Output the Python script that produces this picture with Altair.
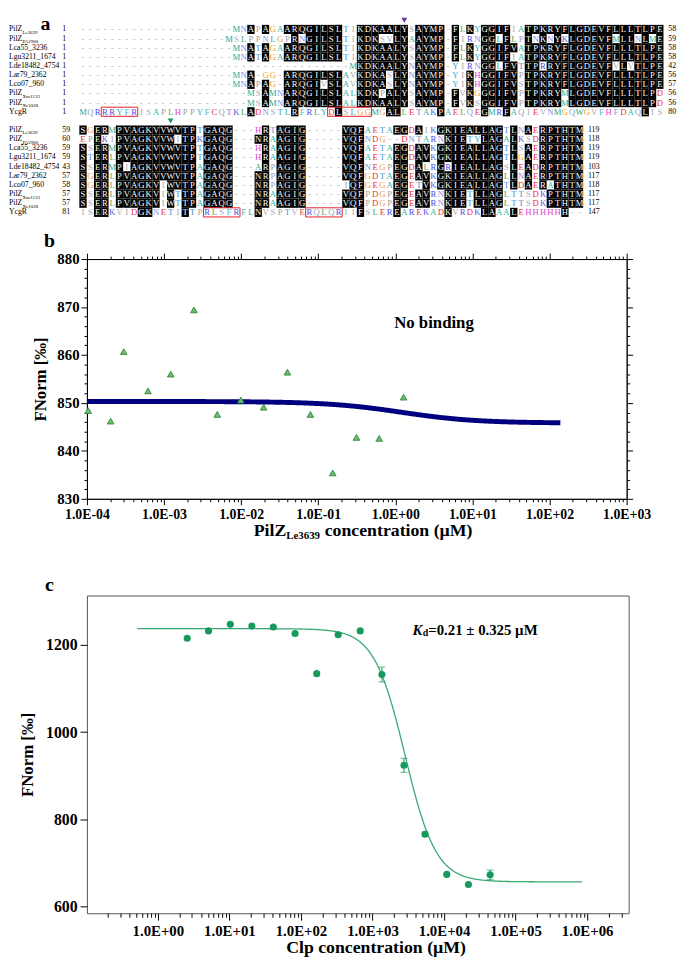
import altair as alt
import pandas as pd
from collections import Counter

# ---------------- panel a: alignment data ----------------
name_main = ["PilZ", "PilZ", "Lca55_3236", "Lgu3211_1674", "Lde18482_4754",
             "Lar79_2362", "Lco07_960", "PilZ", "PilZ", "YcgR"]
name_sub = ["Le3639", "PA2960", "", "", "", "", "", "Xac1133", "Xc1028", ""]
start1 = [1, 1, 1, 1, 1, 1, 1, 1, 1, 1]
end1 = [58, 59, 58, 58, 42, 56, 57, 56, 56, 80]
start2 = [59, 60, 59, 59, 43, 57, 58, 57, 57, 81]
end2 = [119, 118, 119, 119, 103, 117, 118, 117, 117, 147]

block1 = [
    "-" * 21 + "MNAPAGAARQGILSL" + "TIKDKAALYSAYMP-FLKYGGIFIATPKRYFLGDEVFLLLTLPE",
    "-" * 20 + "MSLPPNLGPRNGILSL" + "TIKDKSVLYAAYMP-FIRNGGLFLPTNKNYKLGDEVFMLLNLME",
    "-" * 21 + "MNATAGAARQGILSL" + "TIKDKAALYSAYMP-FLKYGGIFVATPKRYFLGDEVFLLLTLPE",
    "-" * 21 + "MNATAGAARQGILSL" + "TIKDKAALYSAYMP-FLKYGGIFIATPKRYFLGDEVFLLLTLPE",
    "-" * 37 + "MKDKAALYNAYMP-YIRNGGLFVTTPRRYFLGDEVFVLVTLPE",
    "-" * 21 + "MNA-GG-ARQGILSL" + "AVKDKASLYNAYMP-YIKHGGIFVPTPKRYFLGDEVFLLLTLPE",
    "-" * 21 + "MNAPAG-ARQGIVSL" + "AVKDKASLYNAYMP-YIKHGGIFVSTPKRYFLGDEVFLLLTLPE",
    "-" * 23 + "MSAMNARQGILSL" + "ALKDKPALYSAYMP-FVKGGGIFVPTPKRYMLGDEVFLLLTLPD",
    "-" * 23 + "MSAMNARQGILSL" + "ALKDKAALYSAYMP-FVKSGGIFVPTPKRYMLGDEVFLLLTLPD",
    "MQRRRYFRISAPLHPPYFCQTKLADNSTLRFRLYDLSLGGMGALLETAKPAELQEGMRFAQIEVNMGQWGVFHFDAQLIS",
]
block2 = [
    "SGERMPVAGKVVWVTPTGAQG---HRTAGIG-----VQFAETAEGDAIKGKIEALLAGTLNAERPTHTM",
    "EPEKIPVAGKVVWITPKGAQG---NRAAGIG-----VQFNDG--DNTARNKIETYLAGALKSDRPTHTM",
    "SSERMPVAGKVVWVTPTGAQG---HRAAGIG-----VQFAETAEGDAVKGKIEALLAGTLSAERPTHTM",
    "STERLPVAGKVVWVTPTGAQG---HRAAGIG-----VQFAETAEGDAVKGKIEALLAGTLGAERPTHTM",
    "SSERMPIAGKVVWVTPAGAQG---ARPAGIG-----VQFNEGPEGDALRGRIEALLAGSLEADRPTHTM",
    "SGERLPVAGKVVWVTPAGAQG---NRPAGIG-----VQFGDTAEGEAVKGKIEALLAGLLNAERPTHTM",
    "SGERLPVAGKVIWVTPAGAQG---NRPAGIG-----IQFGEGAEGETVKGKIEALLAGTLDAERATHTM",
    "SSERLPVAGKVIWTTPAGAQG---NRAAGIG-----VQFPDGPEGEAVRNKIETLLAGLTTSDKPTHTM",
    "SSERLPVAGKVIWTTPAGAQG---NRAAGIG-----VQFPDGPEGEAVRNKIETLLAGLTTSDKPTHTM",
    "ISERKVIDGKNETITTPRLSFRFLNVSPTVERQLQRIIFSLEREAREKADKVRDKLAAALEHHHHHH--",
]
# red motif boxes on the YcgR row: (block, first column, last column)
motif_boxes = [(0, 3, 7), (0, 34, 39), (1, 17, 21), (1, 31, 35)]
# triangle markers: (block, column, colour)
markers = [(0, 44, "#7030a0"), (1, 12, "#1a9a5c")]

res_colors = {
    "A": "#2bb5a0", "C": "#e0303a", "D": "#e8303a", "E": "#e8303a", "F": "#4fb8c8",
    "G": "#f0a030", "H": "#e23fd0", "I": "#a8a8a8", "K": "#5a5ae0", "L": "#45a865",
    "M": "#2aa88a", "N": "#8a8ae8", "P": "#a0a0a0", "Q": "#8f9fc8", "R": "#4a4ae8",
    "S": "#a8a8b8", "T": "#4a90d0", "V": "#a8a8a8", "W": "#2aa88a", "Y": "#2ab0c0",
}

# ---------------- panel b data ----------------
b_conc = [1.04e-4, 2.03e-4, 3.0e-4, 6.2e-4, 1.22e-3, 2.44e-3, 4.9e-3, 9.9e-3,
          1.96e-2, 3.98e-2, 7.9e-2, 0.154, 0.313, 0.617, 1.28]
b_fnorm = [848.4, 846.2, 860.7, 852.5, 856.0, 869.4, 847.6, 850.6,
           849.1, 856.4, 847.6, 835.4, 842.8, 842.6, 851.2]
b_fit = dict(top=850.3, bottom=845.8, ec50=1.2, hill=0.9, lo=-4.0, hi=2.143)

# ---------------- panel c data ----------------
c_conc = [2.57, 5.1, 10.3, 20.6, 41.1, 82.7, 166, 331, 673, 1352, 2750, 5420,
          10900, 21900, 44060]
c_fnorm = [1215, 1232, 1247, 1243, 1241, 1226, 1134, 1223, 1232, 1132, 924, 766,
           674, 651, 673]
c_err = [0, 0, 0, 0, 0, 0, 0, 0, 0, 17, 16, 5, 0, 0, 11]
c_fit = dict(top=1237, bottom=657, ec50=2850, hill=2.0, lo=-0.29, hi=5.94)

SERIF = "Liberation Serif"
LEFT = -79  # left edge of the whole figure relative to the plot areas

# ================= panel a =================
cells = []
for bi, block in enumerate([block1, block2]):
    ncol = len(block[0])
    for c in range(ncol):
        column = [s[c] for s in block]
        cnt = Counter(ch for ch in column if ch != "-")
        top_res, top_n = cnt.most_common(1)[0] if cnt else ("", 0)
        for r, ch in enumerate(column):
            cons = ch != "-" and ch == top_res and top_n >= 6
            cells.append(dict(col=c, v=r + 11 * bi, res=ch,
                              key="cons" if cons else ch, cons=cons))
cells_df = pd.DataFrame(cells)

label_rows = []
for bi, (starts, ends, block) in enumerate([(start1, end1, block1), (start2, end2, block2)]):
    for r in range(10):
        label_rows.append(dict(v=r + 11 * bi, main=name_main[r], sub=name_sub[r],
                               start=str(starts[r]), end=str(ends[r]),
                               ecol=len(block[0]) + 0.15))
labels_df = pd.DataFrame(label_rows)

box_df = pd.DataFrame([dict(x0=s - 0.5, x1=e + 0.5, y0=9 + 11 * b - 0.5, y1=9 + 11 * b + 0.5)
                       for b, s, e in motif_boxes])
mark_df = pd.DataFrame([dict(col=c, v=11 * b - 1, color=col) for b, c, col in markers])

Wa, Ha = 590, 206
xs_a = alt.Scale(domain=[4 / 7.4, (Wa + 4) / 7.4], nice=False, zero=False)
ys_a = alt.Scale(domain=[-15.3 / 9.27, (Ha - 15.3) / 9.27], nice=False, zero=False, reverse=True)

key_domain = ["cons", "-"] + list(res_colors.keys())
key_range = ["#ffffff", "#b0b0b0"] + list(res_colors.values())

base_a = alt.Chart(cells_df)
rects = base_a.transform_filter("datum.cons").transform_calculate(
    x0="datum.col - 0.5", x1="datum.col + 0.5", y0="datum.v - 0.5", y1="datum.v + 0.5"
).mark_rect(color="black").encode(
    x=alt.X("x0:Q", scale=xs_a, axis=None), x2="x1:Q",
    y=alt.Y("y0:Q", scale=ys_a, axis=None), y2="y1:Q")
letters = base_a.mark_text(font=SERIF, fontSize=8.8, align="center", baseline="middle").encode(
    x=alt.X("col:Q", scale=xs_a, axis=None),
    y=alt.Y("v:Q", scale=ys_a, axis=None),
    text="res:N",
    color=alt.Color("key:N", scale=alt.Scale(domain=key_domain, range=key_range), legend=None))
boxes = alt.Chart(box_df).mark_rect(fillOpacity=0, stroke="#e8202a", strokeWidth=1).encode(
    x=alt.X("x0:Q", scale=xs_a, axis=None), x2="x1:Q",
    y=alt.Y("y0:Q", scale=ys_a, axis=None), y2="y1:Q")
tri = alt.Chart(mark_df).mark_point(shape="triangle-down", filled=True, size=35, opacity=1).encode(
    x=alt.X("col:Q", scale=xs_a, axis=None), y=alt.Y("v:Q", scale=ys_a, axis=None),
    color=alt.Color("color:N", scale=None))
lab = alt.Chart(labels_df)
names_main = lab.mark_text(font=SERIF, fontSize=7.8, align="left", baseline="middle").encode(
    x=alt.value(LEFT), y=alt.Y("v:Q", scale=ys_a, axis=None), text="main:N")
names_sub = lab.transform_filter("datum.sub != ''").mark_text(
    font=SERIF, fontSize=5, align="left", baseline="middle", dy=2.5).encode(
    x=alt.value(LEFT + 13.6), y=alt.Y("v:Q", scale=ys_a, axis=None), text="sub:N")
starts_t = lab.mark_text(font=SERIF, fontSize=8, align="left", baseline="middle").encode(
    x=alt.value(-25), y=alt.Y("v:Q", scale=ys_a, axis=None), text="start:N")
ends_t = lab.mark_text(font=SERIF, fontSize=8, align="left", baseline="middle").encode(
    x=alt.X("ecol:Q", scale=xs_a, axis=None), y=alt.Y("v:Q", scale=ys_a, axis=None), text="end:N")
one = pd.DataFrame({"k": [0]})
lab_a = alt.Chart(one).mark_text(text="a", font=SERIF, fontSize=20, fontWeight="bold",
                                 align="center", baseline="top").encode(
    x=alt.value(-42), y=alt.value(0))
anchor_a = alt.Chart(one).mark_rule(opacity=0).encode(
    x=alt.value(LEFT), y=alt.value(0), y2=alt.value(Ha))
panel_a = alt.layer(anchor_a, rects, letters, boxes, tri, names_main, names_sub,
                    starts_t, ends_t, lab_a).properties(width=Wa, height=Ha)

# ================= shared axis helpers =================
MAJ = "abs(log(datum.value)/LN10 - round(log(datum.value)/LN10)) < 0.001"
EXP = "round(log(datum.value)/LN10)"
LBL = f"({MAJ}) ? ('1.0E' + ({EXP} < 0 ? '-' : '+') + (abs({EXP}) < 10 ? '0' : '') + abs({EXP})) : ''"

# ================= panel b =================
Wb, Hb = 547, 243
xb = alt.Scale(type="log", domain=[1e-4, 1e3], nice=False)
yb = alt.Scale(domain=[830, 880], nice=False, zero=False)
bx_ticks = [m * 10.0 ** k for k in range(-4, 3) for m in range(1, 10)] + [1000.0]
by_ticks = list(range(830, 881, 2))
tick_x = {"condition": {"test": MAJ, "value": 6}, "value": 3}
tick_y = {"condition": {"test": "datum.value % 10 == 0", "value": 6}, "value": 3}

bx_bottom = alt.Axis(orient="bottom", values=bx_ticks, labelExpr=LBL, labelOverlap=False,
                     labelFlush=False, tickSize=tick_x, title=None, labelFontSize=14,
                     labelPadding=3)
bx_top = alt.Axis(orient="top", values=bx_ticks, labels=False, tickSize=tick_x, title=None)
by_left = alt.Axis(orient="left", values=by_ticks, labelExpr="datum.value % 10 == 0 ? datum.label : ''",
                   labelOverlap=False, tickSize=tick_y, title="FNorm [‰]", titleFontSize=17,
                   titlePadding=7, labelFontSize=15, labelPadding=2)
by_right = alt.Axis(orient="right", values=by_ticks, labels=False, tickSize=tick_y, title=None)

b_df = pd.DataFrame({"conc": b_conc, "fnorm": b_fnorm})
fit_b = alt.Chart(alt.sequence(b_fit["lo"], b_fit["hi"], 0.01, as_="t")).transform_calculate(
    conc="pow(10, datum.t)",
    fnorm=f"{b_fit['bottom']} + ({b_fit['top']} - {b_fit['bottom']}) / (1 + pow(pow(10, datum.t) / {b_fit['ec50']}, {b_fit['hill']}))"
).mark_line(color="#00007f", strokeWidth=5).encode(
    x=alt.X("conc:Q", scale=xb, axis=bx_top), y=alt.Y("fnorm:Q", scale=yb, axis=by_right))
pts_b = alt.Chart(b_df).mark_point(shape="triangle-up", filled=True, size=45, fill="#6cbd6c",
                                   stroke="#2f8a3c", strokeWidth=0.9, opacity=1).encode(
    x=alt.X("conc:Q", scale=xb, axis=bx_bottom), y=alt.Y("fnorm:Q", scale=yb, axis=by_left))
nob = alt.Chart(pd.DataFrame({"conc": [3.17], "fnorm": [866.7], "t": ["No binding"]})).mark_text(
    font=SERIF, fontSize=17, fontWeight="bold", align="center", baseline="middle").encode(
    x=alt.X("conc:Q", scale=xb, axis=None), y=alt.Y("fnorm:Q", scale=yb, axis=None), text="t:N")
tb_main = alt.Chart(one).mark_text(text="PilZ", font=SERIF, fontSize=18, fontWeight="bold",
                                   align="left", baseline="middle").encode(
    x=alt.value(169), y=alt.value(276))
tb_sub = alt.Chart(one).mark_text(text="Le3639", font=SERIF, fontSize=11, fontWeight="bold",
                                  align="left", baseline="middle").encode(
    x=alt.value(202), y=alt.value(281))
tb_rest = alt.Chart(one).mark_text(text="concentration (µM)", font=SERIF, fontSize=18,
                                   fontWeight="bold", align="left", baseline="middle").encode(
    x=alt.value(241), y=alt.value(276))
lab_b = alt.Chart(one).mark_text(text="b", font=SERIF, fontSize=20, fontWeight="bold",
                                 align="center", baseline="middle").encode(
    x=alt.value(-38), y=alt.value(-18))
anchor_b = alt.Chart(one).mark_rule(opacity=0).encode(
    x=alt.value(LEFT), y=alt.value(-41), y2=alt.value(Hb + 50))
panel_b = alt.layer(anchor_b, fit_b, pts_b, nob, tb_main, tb_sub, tb_rest, lab_b).resolve_axis(
    x="independent", y="independent").properties(
    width=Wb, height=Hb, view=alt.ViewBackground(stroke="#222222", strokeWidth=1))

# ================= panel c =================
Wc, Hc = 549, 322
xc = alt.Scale(type="log", domain=[0.102, 3.8e6], nice=False)
yc = alt.Scale(domain=[585, 1313], nice=False, zero=False)
cx_ticks = [m * 10.0 ** k for k in range(-1, 7) for m in range(1, 10) if 0.15 < m * 10.0 ** k < 3.7e6]
cx_axis = alt.Axis(orient="bottom", values=cx_ticks, labelExpr=LBL, labelOverlap=False,
                   labelFlush=False, tickSize={"condition": {"test": MAJ, "value": 7}, "value": 4},
                   title=None, labelFontSize=15, labelPadding=4, domain=False)
cy_axis = alt.Axis(orient="left", values=[600, 800, 1000, 1200], format="d", tickSize=7,
                   title="FNorm [‰]", titleFontSize=17, titlePadding=9, labelFontSize=16,
                   labelPadding=3, domain=False)

c_df = pd.DataFrame({"conc": c_conc, "fnorm": c_fnorm, "err": c_err})
GREEN = "#179a5b"
CX = alt.X("conc:Q", scale=xc, axis=cx_axis)
fit_c = alt.Chart(alt.sequence(c_fit["lo"], c_fit["hi"], 0.01, as_="t")).transform_calculate(
    conc="pow(10, datum.t)",
    fnorm=f"{c_fit['bottom']} + ({c_fit['top']} - {c_fit['bottom']}) / (1 + pow(pow(10, datum.t) / {c_fit['ec50']}, {c_fit['hill']}))"
).mark_line(color="#3aa874", strokeWidth=1.3).encode(
    x=CX, y=alt.Y("fnorm:Q", scale=yc, axis=cy_axis))
err_base = alt.Chart(c_df).transform_filter("datum.err > 0").transform_calculate(
    lo="datum.fnorm - datum.err", hi="datum.fnorm + datum.err")
err_rule = err_base.mark_rule(color=GREEN, strokeWidth=1).encode(
    x=CX, y=alt.Y("lo:Q", scale=yc, axis=cy_axis), y2="hi:Q")
err_lo = err_base.mark_tick(color=GREEN, orient="horizontal", size=7, thickness=1).encode(
    x=CX, y=alt.Y("lo:Q", scale=yc, axis=cy_axis))
err_hi = err_base.mark_tick(color=GREEN, orient="horizontal", size=7, thickness=1).encode(
    x=CX, y=alt.Y("hi:Q", scale=yc, axis=cy_axis))
pts_c = alt.Chart(c_df).mark_circle(color=GREEN, size=52, opacity=1).encode(
    x=CX, y=alt.Y("fnorm:Q", scale=yc, axis=cy_axis))
kd_pos = pd.DataFrame({"conc": [3620], "fnorm": [1234]})
kd_k = alt.Chart(kd_pos).mark_text(text="K", font=SERIF, fontSize=15, fontWeight="bold",
                                   fontStyle="italic", align="left", baseline="middle").encode(
    x=CX, y=alt.Y("fnorm:Q", scale=yc, axis=cy_axis))
kd_d = alt.Chart(kd_pos).mark_text(text="d", font=SERIF, fontSize=10, fontWeight="bold",
                                   align="left", baseline="middle", dx=10.5, dy=3.5).encode(
    x=CX, y=alt.Y("fnorm:Q", scale=yc, axis=cy_axis))
kd_rest = alt.Chart(kd_pos).mark_text(text="=0.21 ± 0.325 µM", font=SERIF, fontSize=15,
                                      fontWeight="bold", align="left", baseline="middle",
                                      dx=16).encode(
    x=CX, y=alt.Y("fnorm:Q", scale=yc, axis=cy_axis))
tc = alt.Chart(one).mark_text(text="Clp concentration (µM)", font=SERIF, fontSize=18,
                              fontWeight="bold", align="center", baseline="middle").encode(
    x=alt.value(293), y=alt.value(357))
lab_c = alt.Chart(one).mark_text(text="c", font=SERIF, fontSize=20, fontWeight="bold",
                                 align="center", baseline="middle").encode(
    x=alt.value(-38), y=alt.value(-11))
anchor_c = alt.Chart(one).mark_rule(opacity=0).encode(
    x=alt.value(LEFT), y=alt.value(-46), y2=alt.value(Hc))
panel_c = alt.layer(anchor_c, fit_c, err_rule, err_lo, err_hi, pts_c, kd_k, kd_d, kd_rest,
                    tc, lab_c).properties(
    width=Wc, height=Hc, view=alt.ViewBackground(stroke="#555555", strokeWidth=1))

chart = alt.vconcat(panel_a, panel_b, panel_c, spacing=0).properties(padding=0).configure_view(
    stroke=None
).configure_axis(
    labelFont=SERIF, titleFont=SERIF, labelFontWeight="bold", titleFontWeight="bold",
    labelColor="black", titleColor="black", domainColor="black", tickColor="black", grid=False
)

chart.save("out.html", embed_options={"renderer": "svg", "actions": False})
